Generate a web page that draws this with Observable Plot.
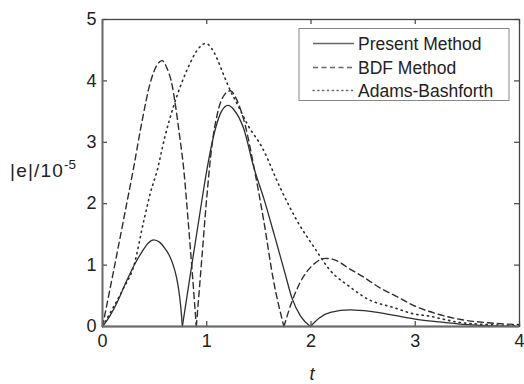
<!DOCTYPE html>
<html>
<head>
<meta charset="utf-8">
<script src="https://cdn.jsdelivr.net/npm/d3@7"></script>
<script src="https://cdn.jsdelivr.net/npm/@observablehq/plot@0.6"></script>
<style>
  html, body { margin: 0; padding: 0; background: #fff; }
  #chart { width: 524px; height: 384px; }
</style>
</head>
<body>
<div id="chart"></div>
<script>
// ---- data (|e| / 1e-5 versus t) ----
const seriesNames = ["Present Method", "BDF Method", "Adams-Bashforth"];

const tPresent = [0, 0.07, 0.14, 0.22, 0.3, 0.38, 0.44, 0.49, 0.55, 0.6, 0.64, 0.68, 0.71, 0.735, 0.752, 0.766,
  0.85, 0.93, 1.0, 1.083, 1.14, 1.205, 1.26, 1.355, 1.45, 1.55, 1.65, 1.75, 1.82, 1.9, 1.994,
  2.08, 2.186, 2.378, 2.57, 2.8, 3.0, 3.2, 3.43, 3.7, 4.0];
const ePresent = [0, 0.17, 0.39, 0.7, 0.985, 1.22, 1.36, 1.41, 1.37, 1.27, 1.16, 0.99, 0.8, 0.55, 0.3, 0,
  0.93, 1.8, 2.54, 3.22, 3.5, 3.6, 3.53, 3.22, 2.6, 2.07, 1.48, 0.87, 0.45, 0.17, 0,
  0.14, 0.23, 0.27, 0.245, 0.18, 0.12, 0.08, 0.04, 0.015, 0.003];

const tBDF = [0, 0.1, 0.2, 0.3, 0.38, 0.46, 0.52, 0.572, 0.62, 0.668, 0.7, 0.74, 0.78, 0.82, 0.86, 0.9,
  0.95, 1.0, 1.05, 1.1, 1.16, 1.227, 1.28, 1.37, 1.45, 1.547, 1.64, 1.74,
  1.82, 1.9, 2.03, 2.14, 2.25, 2.35, 2.49, 2.67, 2.81, 3.0, 3.2, 3.45, 3.7, 4.0];
const eBDF = [0, 0.85, 1.72, 2.6, 3.35, 3.98, 4.25, 4.33, 4.2, 3.93, 3.6, 3.1, 2.55, 1.75, 0.9, 0,
  1.05, 2.1, 2.95, 3.45, 3.75, 3.84, 3.72, 3.27, 2.62, 1.72, 0.75, 0,
  0.42, 0.73, 1.02, 1.11, 1.07, 0.96, 0.82, 0.62, 0.5, 0.33, 0.21, 0.11, 0.06, 0.03];

const tAB = [0, 0.1, 0.2, 0.3, 0.396, 0.46, 0.524, 0.6, 0.684, 0.76, 0.83, 0.9, 0.99, 1.05, 1.1, 1.15,
  1.227, 1.3, 1.387, 1.53, 1.71, 1.867, 2.03, 2.186, 2.378, 2.54, 2.79, 3.0, 3.11, 3.43, 3.7, 4.0];
const eAB = [0, 0.3, 0.62, 0.985, 1.72, 2.18, 2.54, 3.1, 3.6, 3.97, 4.25, 4.48, 4.61, 4.52, 4.36, 4.15,
  3.84, 3.6, 3.3, 2.92, 2.24, 1.72, 1.29, 0.91, 0.64, 0.45, 0.31, 0.2, 0.175, 0.065, 0.03, 0.01];

const xTicks = [0, 1, 2, 3, 4];
const yTicks = [0, 1, 2, 3, 4, 5];

// split each curve into pieces at its interior zeros (cusps of |e|)
function build(ts, es, name) {
  const rows = [];
  let seg = 0;
  ts.forEach((t, i) => {
    rows.push({t, e: es[i], name, seg});
    if (es[i] === 0 && i > 0 && i < ts.length - 1) {
      seg++;
      rows.push({t, e: es[i], name, seg});
    }
  });
  return rows;
}
const present = build(tPresent, ePresent, seriesNames[0]);
const bdf = build(tBDF, eBDF, seriesNames[1]);
const ab = build(tAB, eAB, seriesNames[2]);

const W = 524, H = 384;
const mL = 102, mR = 5, mT = 19, mB = 58;
const innerW = W - mL - mR, innerH = H - mT - mB;
const tickLen = 5;
const lineColor = "#2e2e2e";
const fam = "Liberation Sans, Arial, sans-serif";

const chart = Plot.plot({
  width: W, height: H,
  marginLeft: mL, marginRight: mR, marginTop: mT, marginBottom: mB,
  style: {fontFamily: fam, fontSize: "18px", color: "#222", background: "#fff"},
  x: {domain: [0, 4]},
  y: {domain: [0, 5]},
  marks: [
    Plot.line(ab, {x: "t", y: "e", z: "seg", curve: "monotone-x", stroke: lineColor, strokeWidth: 1.6, strokeDasharray: "1.2,4.2", strokeLinecap: "round"}),
    Plot.line(bdf, {x: "t", y: "e", z: "seg", curve: "monotone-x", stroke: lineColor, strokeWidth: 1.4, strokeDasharray: "6,4"}),
    Plot.line(present, {x: "t", y: "e", z: "seg", curve: "monotone-x", stroke: lineColor, strokeWidth: 1.3}),
    // inward ticks on all four sides
    Plot.tickX(xTicks, {x: d => d, insetTop: innerH - tickLen, stroke: "#444", strokeWidth: 1.2}),
    Plot.tickX(xTicks, {x: d => d, insetBottom: innerH - tickLen, stroke: "#444", strokeWidth: 1.2}),
    Plot.tickY(yTicks, {y: d => d, insetRight: innerW - tickLen, stroke: "#444", strokeWidth: 1.2}),
    Plot.tickY(yTicks, {y: d => d, insetLeft: innerW - tickLen, stroke: "#444", strokeWidth: 1.2}),
    Plot.frame({stroke: "#444", strokeWidth: 1.3}),
    Plot.ruleY([0], {stroke: "#6a6a6a", strokeWidth: 2.2}),
    Plot.ruleX([0], {stroke: "#6a6a6a", strokeWidth: 1.8}),
    Plot.axisX(xTicks, {tickSize: 0, tickPadding: 8, fontSize: 18, label: null, fill: "#222", tickFormat: d3.format("d")}),
    Plot.axisY(yTicks, {tickSize: 0, tickPadding: 6, fontSize: 18, label: null, fill: "#222", tickFormat: d3.format("d")})
  ]
});

document.getElementById("chart").appendChild(chart);

const svg = d3.select(chart);

// axis titles
const yl = svg.append("text")
  .attr("x", 10).attr("y", 177)
  .attr("text-anchor", "start")
  .attr("font-family", fam)
  .attr("font-size", 19).attr("fill", "#222")
  .attr("letter-spacing", 1.2);
yl.append("tspan").text("|e|/10");
yl.append("tspan").attr("dy", -8).attr("font-size", 13.5).attr("letter-spacing", 0).text("-5");

svg.append("text")
  .attr("x", 312).attr("y", 380)
  .attr("text-anchor", "middle")
  .attr("font-family", fam)
  .attr("font-style", "italic")
  .attr("font-size", 18).attr("fill", "#222")
  .text("t");

// legend box
const lg = svg.append("g");
lg.append("rect")
  .attr("x", 299).attr("y", 28.5).attr("width", 210).attr("height", 72)
  .attr("fill", "#fff").attr("stroke", "#888").attr("stroke-width", 1);
const dashes = [null, "5,3.5", "1.2,3.6"];
const rowY = [43.5, 67.5, 90.5];
seriesNames.forEach((name, i) => {
  lg.append("line")
    .attr("x1", 313).attr("x2", 354).attr("y1", rowY[i]).attr("y2", rowY[i])
    .attr("stroke", "#666").attr("stroke-width", 1.3)
    .attr("stroke-linecap", i === 2 ? "round" : "butt")
    .attr("stroke-dasharray", dashes[i]);
  lg.append("text")
    .attr("x", 358).attr("y", rowY[i] + 6)
    .attr("text-anchor", "start")
    .attr("font-family", fam)
    .attr("font-size", 17.5).attr("fill", "#222")
    .text(name);
});
</script>
</body>
</html>
